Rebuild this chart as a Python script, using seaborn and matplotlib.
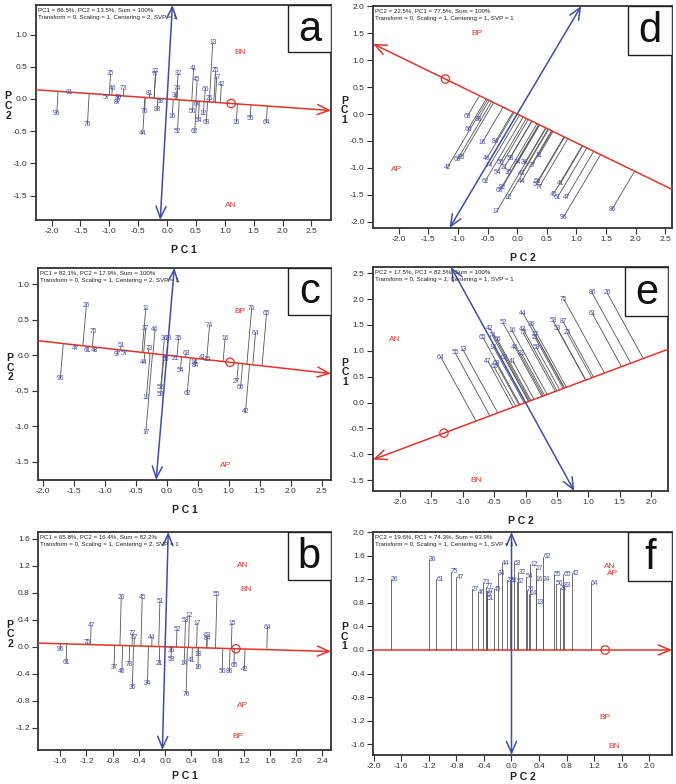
import numpy as np
import pandas as pd
import matplotlib
matplotlib.use("Agg")
import matplotlib.pyplot as plt
from matplotlib.patches import Rectangle
from matplotlib.ticker import FormatStrFormatter
import seaborn as sns

sns.set_theme(style="ticks")
plt.rcParams["font.family"] = ["Liberation Sans", "DejaVu Sans"]
plt.rcParams["axes.unicode_minus"] = False

RED = "#e5332a"
BLUE = "#3f4ea6"
GEN_COLOR = "#4b4fae"
LINE_GRAY = "#555555"

# ---- panel a
A_GEN = ["96", "61", "75", "35", "46", "73", "57", "87", "89", "27", "77", "81", "76", "44",
         "53", "83", "32", "74", "36", "16", "52", "41", "45", "66", "25", "17", "42", "26",
         "67", "56", "12", "54", "63", "62", "15", "55", "64", "13"]
A_X = [-1.91, -1.70, -1.38, -0.98, -0.95, -0.75, -1.05, -0.86, -0.84, -0.20, -0.20, -0.30,
       -0.39, -0.42, -0.12, -0.17, 0.19, 0.18, 0.14, 0.09, 0.18, 0.46, 0.52, 0.66, 0.84, 0.86,
       0.94, 0.73, 0.52, 0.44, 0.63, 0.54, 0.68, 0.48, 1.20, 1.44, 1.72, 0.79]
A_Y = [-0.22, 0.10, -0.40, 0.39, 0.16, 0.16, 0.03, -0.06, 0.02, 0.42, 0.38, 0.09, -0.19,
       -0.53, -0.04, -0.17, 0.39, 0.17, 0.05, -0.27, -0.50, 0.48, 0.30, 0.14, 0.44, 0.34,
       0.23, 0.00, -0.08, -0.20, -0.22, -0.34, -0.37, -0.50, -0.36, -0.30, -0.37, 0.87]
A_ENV = ["BN", "AN"]
A_EX = [1.27, 1.10]
A_EY = [0.72, -1.65]
A_AEC = [1.11, -0.07]

# ---- panel c
C_GEN = ["26", "75", "47", "61", "43", "96", "11", "37", "46", "51", "97", "57", "73", "44",
         "36", "78", "35", "55", "21", "63", "54", "14", "84", "41", "15", "74", "16", "76",
         "65", "64", "27", "66", "52", "53", "62", "12", "17", "42"]
C_X = [-1.30, -1.18, -1.47, -1.29, -1.17, -1.72, -0.34, -0.34, -0.19, -0.74, -0.80, -0.68,
       -0.29, -0.37, -0.04, 0.02, 0.19, -0.02, 0.13, 0.31, 0.22, 0.45, 0.46, 0.57, 0.66, 0.69,
       0.94, 1.37, 1.61, 1.43, 1.13, 1.19, -0.10, -0.10, 0.33, -0.33, -0.34, 1.27]
C_Y = [0.70, 0.34, 0.10, 0.06, 0.06, -0.33, 0.66, 0.38, 0.36, 0.13, 0.01, 0.03, 0.10, -0.11,
       0.24, 0.24, 0.24, -0.06, -0.04, 0.03, -0.21, -0.11, -0.15, -0.03, -0.06, 0.42, 0.23,
       0.66, 0.59, 0.30, -0.37, -0.46, -0.46, -0.56, -0.54, -0.59, -1.09, -0.80]
C_ENV = ["BP", "AP"]
C_EX = [1.18, 0.95]
C_EY = [0.62, -1.55]
C_AEC = [1.02, -0.10]

# ---- panel b
B_GEN = ["26", "45", "51", "55", "47", "75", "77", "57", "44", "52", "12", "58", "17", "63",
         "84", "15", "64", "96", "61", "37", "46", "73", "35", "34", "21", "36", "53", "14",
         "41", "13", "16", "76", "56", "86", "65", "42"]
B_X = [-0.67, -0.35, -0.08, 0.79, -1.13, -1.19, -0.50, -0.47, -0.20, 0.18, 0.37, 0.31, 0.49,
       0.64, 0.64, 1.02, 1.56, -1.60, -1.51, -0.78, -0.66, -0.55, -0.50, -0.27, -0.09, 0.09,
       0.09, 0.29, 0.41, 0.50, 0.50, 0.32, 0.87, 0.98, 1.05, 1.21]
B_Y = [0.73, 0.73, 0.67, 0.77, 0.31, 0.07, 0.19, 0.13, 0.14, 0.25, 0.46, 0.39, 0.35, 0.16,
       0.12, 0.35, 0.28, -0.04, -0.24, -0.31, -0.37, -0.27, -0.61, -0.54, -0.25, -0.06, -0.19,
       -0.25, -0.20, -0.12, -0.31, -0.71, -0.37, -0.37, -0.28, -0.33]
B_ENV = ["AN", "BN", "AP", "BP"]
B_EX = [1.18, 1.24, 1.18, 1.11]
B_EY = [1.21, 0.85, -0.87, -1.33]
B_AEC = [1.08, -0.03]

# ---- panel d
D_GEN = ["63", "98", "66", "16", "84", "68", "85", "42", "62", "46", "74", "55", "21", "54",
         "35", "53", "34", "36", "37", "11", "43", "44", "92", "65", "12", "17", "56", "57",
         "77", "41", "45", "61", "47", "96", "86"]
D_X = [-0.84, -0.66, -0.83, -0.59, -0.37, -1.01, -0.94, -1.18, -0.54, -0.51, -0.46, -0.29,
       -0.22, -0.34, -0.15, -0.12, 0.00, 0.13, 0.25, 0.36, 0.08, 0.07, -0.25, -0.30, -0.15,
       -0.35, 0.34, 0.32, 0.37, 0.73, 0.61, 0.68, 0.83, 0.78, 1.60]
D_Y = [-0.04, -0.10, -0.29, -0.53, -0.52, -0.85, -0.80, -1.00, -1.25, -0.82, -0.95, -0.91,
       -1.00, -1.08, -1.08, -0.82, -0.91, -0.91, -0.95, -0.78, -1.10, -1.26, -1.36, -1.43,
       -1.55, -1.82, -1.26, -1.32, -1.36, -1.29, -1.49, -1.55, -1.55, -1.92, -1.77]
D_ENV = ["BP", "AP"]
D_EX = [-0.67, -2.04]
D_EY = [1.49, -1.04]
D_AEC = [-1.21, 0.65]

# ---- panel e
E_GEN = ["75", "86", "26", "61", "44", "52", "16", "36", "42", "43", "73", "27", "21", "58",
         "87", "53", "25", "65", "56", "74", "14", "46", "32", "13", "55", "64", "41", "63",
         "47", "68", "62", "59"]
E_X = [0.61, 1.06, 1.30, 1.06, -0.04, -0.36, -0.22, 0.10, -0.57, -0.04, -0.04, 0.15, 0.15,
       0.44, 0.60, 0.50, 0.66, -0.68, -0.45, -0.53, -0.51, -0.17, -0.06, -1.00, -1.12, -1.35,
       -0.20, -0.34, -0.60, -0.47, -0.50, 0.17]
E_Y = [2.00, 2.12, 2.12, 1.73, 1.73, 1.54, 1.40, 1.51, 1.44, 1.42, 1.35, 1.32, 1.26, 1.58,
       1.56, 1.44, 1.35, 1.26, 1.22, 1.30, 1.07, 1.07, 0.94, 1.03, 0.96, 0.88, 0.80, 0.88,
       0.80, 0.76, 0.69, 1.07]
E_ENV = ["AN", "BN"]
E_EX = [-2.08, -0.79]
E_EY = [1.21, -1.50]
E_AEC = [-1.30, -0.59]

# ---- panel f
F_GEN = ["26", "36", "61", "75", "47", "27", "46", "73", "77", "37", "57", "51", "45", "34",
         "44", "22", "28", "63", "32", "52", "54", "12", "17", "16", "24", "62", "76", "14",
         "13", "55", "56", "21", "65", "83", "42", "64"]
F_X = [-1.75, -1.20, -1.09, -0.88, -0.80, -0.58, -0.49, -0.42, -0.37, -0.36, -0.37, -0.36,
       -0.26, -0.20, -0.14, -0.07, -0.02, 0.03, 0.10, 0.08, 0.21, 0.27, 0.35, 0.35, 0.46,
       0.46, 0.22, 0.26, 0.36, 0.61, 0.64, 0.70, 0.75, 0.76, 0.88, 1.15]
F_Y = [1.20, 1.54, 1.20, 1.33, 1.23, 1.03, 0.98, 1.15, 1.07, 1.00, 0.94, 0.88, 1.03, 1.30,
       1.47, 1.18, 1.18, 1.47, 1.32, 1.16, 1.24, 1.45, 1.39, 1.20, 1.20, 1.58, 1.02, 0.95,
       0.80, 1.28, 1.12, 1.05, 1.28, 1.10, 1.30, 1.13]
F_ENV = ["AN", "AP", "BP", "BN"]
F_EX = [1.43, 1.47, 1.36, 1.49]
F_EY = [1.42, 1.30, -1.15, -1.63]
F_AEC = [1.36, 0.0]

HEAD_A = "PC1 = 86.5%, PC2 = 13.5%, Sum = 100%"
HEAD_C = "PC1 = 82.1%, PC2 = 17.9%, Sum = 100%"
HEAD_B = "PC1 = 65.8%, PC2 = 16.4%, Sum = 82.2%"
HEAD_D = "PC2 = 22.5%, PC1 = 77.5%, Sum = 100%"
HEAD_E = "PC2 = 17.5%, PC1 = 82.5%, Sum = 100%"
HEAD_F = "PC2 = 19.6%, PC1 = 74.3%, Sum = 93.9%"
SUB_2 = "Transform = 0, Scaling = 1, Centering = 2, SVP = 1"
SUB_1 = "Transform = 0, Scaling = 1, Centering = 1, SVP = 1"


def ticks(a, b, step):
    return np.round(np.arange(a, b + step / 2, step), 2) + 0.0


PANELS = [
    dict(letter="a", rect=[0.0533, 0.7194, 0.4364, 0.2742], xlim=(-2.27, 2.84), ylim=(-1.88, 1.46),
         xt=ticks(-2.0, 2.5, 0.5), yt=ticks(-1.5, 1.0, 0.5),
         gen=A_GEN, gx=A_X, gy=A_Y, env=A_ENV, ex=A_EX, ey=A_EY, aec=A_AEC,
         head=HEAD_A, sub=SUB_2, xl="P C 1", yl="P\nC\n2", ha="center", pad=7),
    dict(letter="c", rect=[0.0562, 0.3878, 0.4334, 0.2704], xlim=(-2.08, 2.65), ylim=(-1.76, 1.23),
         xt=ticks(-2.0, 2.5, 0.5), yt=ticks(-1.5, 1.0, 0.5),
         gen=C_GEN, gx=C_X, gy=C_Y, env=C_ENV, ex=C_EX, ey=C_EY, aec=C_AEC,
         head=HEAD_C, sub=SUB_2, xl="P C 1", yl="P\nC\n2", ha="center", pad=7),
    dict(letter="b", rect=[0.0562, 0.0434, 0.4334, 0.2780], xlim=(-1.94, 2.53), ylim=(-1.53, 1.70),
         xt=ticks(-1.6, 2.4, 0.4), yt=ticks(-1.2, 1.6, 0.4),
         gen=B_GEN, gx=B_X, gy=B_Y, env=B_ENV, ex=B_EX, ey=B_EY, aec=B_AEC,
         head=HEAD_B, sub=SUB_2, xl="P C 1", yl="P\nC\n2", ha="center", pad=4),
    dict(letter="d", rect=[0.5518, 0.7092, 0.4423, 0.2832], xlim=(-2.43, 2.61), ylim=(-2.12, 2.01),
         xt=ticks(-2.0, 2.5, 0.5), yt=ticks(-2.0, 2.0, 0.5),
         gen=D_GEN, gx=D_X, gy=D_Y, env=D_ENV, ex=D_EX, ey=D_EY, aec=D_AEC,
         head=HEAD_D, sub=SUB_1, xl="P C 2", yl="P\nC\n1", ha="center", pad=7),
    dict(letter="e", rect=[0.5518, 0.3737, 0.4364, 0.2857], xlim=(-2.43, 2.27), ylim=(-1.71, 2.62),
         xt=ticks(-2.0, 2.0, 0.5), yt=ticks(-1.5, 2.5, 0.5),
         gen=E_GEN, gx=E_X, gy=E_Y, env=E_ENV, ex=E_EX, ey=E_EY, aec=E_AEC,
         head=HEAD_E, sub=SUB_1, xl="P C 2", yl="P\nC\n1", ha="center", pad=7),
    dict(letter="f", rect=[0.5518, 0.0370, 0.4423, 0.2844], xlim=(-2.01, 2.33), ylim=(-1.78, 2.00),
         xt=ticks(-2.0, 2.0, 0.4), yt=ticks(-1.6, 2.0, 0.4),
         gen=F_GEN, gx=F_X, gy=F_Y, env=F_ENV, ex=F_EX, ey=F_EY, aec=F_AEC,
         head=HEAD_F, sub=SUB_1, xl="P C 2", yl="P\nC\n1", ha="left", pad=1),
]


def clip_line(d, xlim, ylim):
    # segment of the line t*d (through origin) inside the box
    lo, hi = -np.inf, np.inf
    for comp, (a, b) in zip(d, (xlim, ylim)):
        if abs(comp) < 1e-12:
            continue
        t1, t2 = sorted((a / comp, b / comp))
        lo, hi = max(lo, t1), min(hi, t2)
    return np.array(d) * lo, np.array(d) * hi


def draw_panel(ax, p):
    u = np.array(p["aec"], dtype=float)
    u = u / np.linalg.norm(u)
    w = np.array([-u[1], u[0]])
    gx, gy = np.array(p["gx"]), np.array(p["gy"])
    t = gx * u[0] + gy * u[1]
    fx, fy = t * u[0], t * u[1]

    seg = pd.DataFrame({
        "g": list(range(len(gx))) * 2,
        "x": np.concatenate([gx, fx]),
        "y": np.concatenate([gy, fy]),
    })
    sns.lineplot(data=seg, x="x", y="y", units="g", estimator=None, sort=False,
                 color=LINE_GRAY, lw=0.6, ax=ax, zorder=2)

    ax.set_xlim(*p["xlim"])
    ax.set_ylim(*p["ylim"])

    # average environment axis (red) and its perpendicular (blue)
    r0, r1 = clip_line(u, p["xlim"], p["ylim"])
    ax.annotate("", xy=r1, xytext=r0, annotation_clip=False, zorder=3,
                arrowprops=dict(arrowstyle="->,head_length=0.7,head_width=0.3",
                                color=RED, lw=1.1, shrinkA=0, shrinkB=0))
    b0, b1 = clip_line(w, p["xlim"], p["ylim"])
    ax.annotate("", xy=b1, xytext=b0, annotation_clip=False, zorder=3,
                arrowprops=dict(arrowstyle="<->,head_length=0.7,head_width=0.3",
                                color=BLUE, lw=1.1, shrinkA=0, shrinkB=0))
    sns.scatterplot(x=[p["aec"][0]], y=[p["aec"][1]], marker="o", s=36,
                    facecolor="none", edgecolor=RED, linewidth=0.9, ax=ax, zorder=4)

    for lab, x, y in zip(p["gen"], gx, gy):
        ax.text(x, y, lab, fontsize=4.8, color=GEN_COLOR, ha=p["ha"], va="center", zorder=5)
    for lab, x, y in zip(p["env"], p["ex"], p["ey"]):
        ax.text(x, y, lab, fontsize=6, color=RED, ha="center", va="center", zorder=5)

    ax.text(0.006, 0.988, p["head"] + "\n" + p["sub"], transform=ax.transAxes,
            fontsize=4.4, ha="left", va="top", linespacing=1.55, color="#222222", zorder=6)

    ax.add_patch(Rectangle((0.853, 0.78), 0.147, 0.22, transform=ax.transAxes,
                           facecolor="white", edgecolor="#222222", lw=1.0, zorder=6))
    ax.text(0.9265, 0.885, p["letter"], transform=ax.transAxes, fontsize=30,
            ha="center", va="center", color="#111111", zorder=7)

    ax.set_xticks(p["xt"])
    ax.set_yticks(p["yt"])
    ax.xaxis.set_major_formatter(FormatStrFormatter("%.1f"))
    ax.yaxis.set_major_formatter(FormatStrFormatter("%.1f"))
    ax.tick_params(direction="out", length=4, width=0.8, labelsize=6,
                   colors="#333333", pad=2)
    for sp in ax.spines.values():
        sp.set_linewidth(1.3)
        sp.set_color("#333333")
    ax.set_xlabel(p["xl"], fontsize=7.5, fontweight="bold", color="#222222",
                  labelpad=p["pad"])
    ax.set_ylabel(p["yl"], fontsize=7.5, fontweight="bold", color="#222222",
                  rotation=0, linespacing=0.95, va="center", ha="center")
    ax.yaxis.set_label_coords(-0.095, 0.53)


fig = plt.figure(figsize=(6.76, 7.84), dpi=100)
for p in PANELS:
    ax = fig.add_axes(p["rect"])
    draw_panel(ax, p)

fig.savefig("out.png", dpi=100, facecolor="white")
